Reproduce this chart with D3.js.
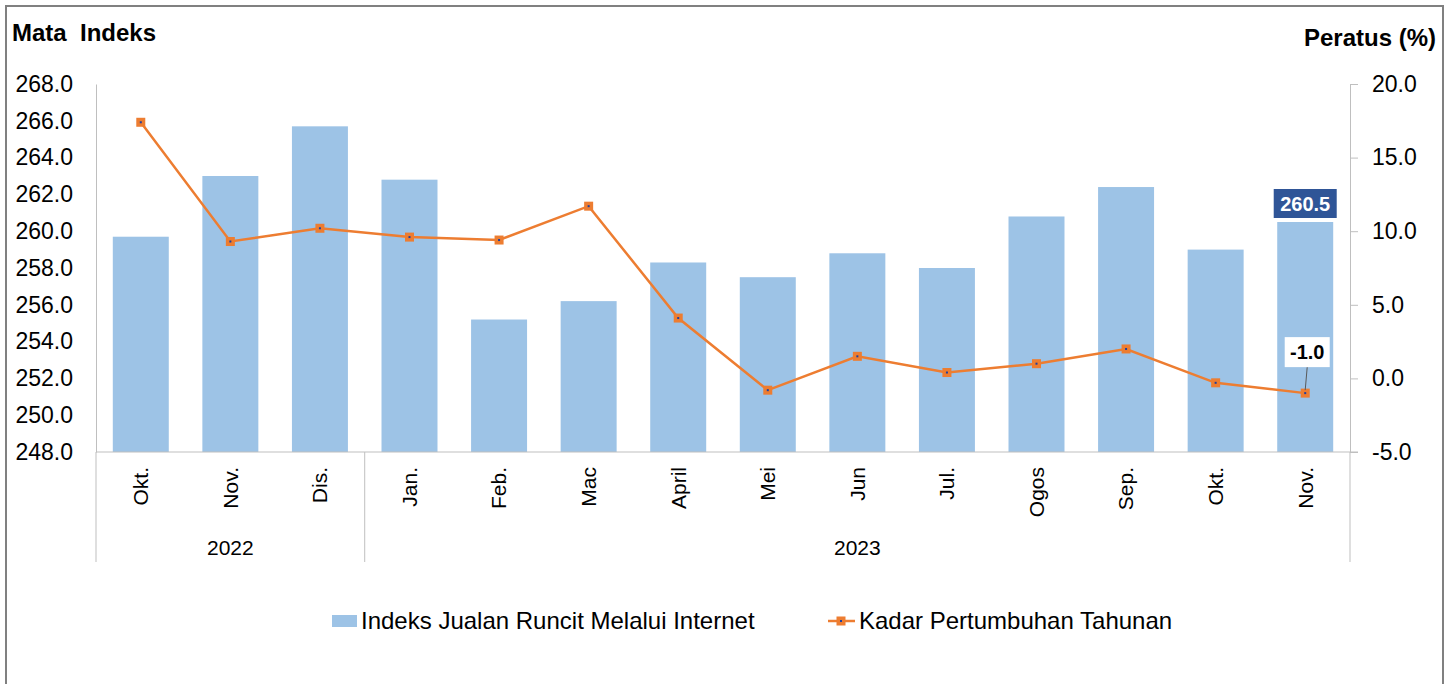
<!DOCTYPE html>
<html>
<head>
<meta charset="utf-8">
<script src="https://cdn.jsdelivr.net/npm/d3@7"></script>
<style>
  body { margin: 0; background: #fff; }
  svg { font-family: "Liberation Sans", Arial, sans-serif; }
  .tick text { fill: #000; }
</style>
</head>
<body>
<div id="chart"></div>
<script>
// Data
const months = ['Okt.', 'Nov.', 'Dis.', 'Jan.', 'Feb.', 'Mac', 'April', 'Mei', 'Jun', 'Jul.', 'Ogos', 'Sep.', 'Okt.', 'Nov.'];
const yearLabels = ['2022', '2023'];
const yearSpans = [3, 11];
const indexValues = [259.7, 263.0, 265.7, 262.8, 255.2, 256.2, 258.3, 257.5, 258.8, 258.0, 260.8, 262.4, 259.0, 260.5];
const growthValues = [17.4, 9.3, 10.2, 9.6, 9.4, 11.7, 4.1, -0.8, 1.5, 0.4, 1.0, 2.0, -0.3, -1.0];
const leftTicks = [248, 250, 252, 254, 256, 258, 260, 262, 264, 266, 268];
const rightTicks = [-5, 0, 5, 10, 15, 20];
const seriesNames = ['Indeks Jualan Runcit Melalui Internet', 'Kadar Pertumbuhan Tahunan'];

const width = 1455;
const height = 684;
const plot = { left: 96, right: 1350, top: 84, bottom: 452 };

const barColor = '#9DC3E6';
const lineColor = '#ED7D31';
const axisColor = '#BFBFBF';

// angka dengan tanda minus biasa (bukan unicode)
const fmt = (d) => d3.format('.1f')(d).replace('\u2212', '-');

const svg = d3.select('#chart').append('svg')
  .attr('width', width)
  .attr('height', height);

// Bingkai
svg.append('rect')
  .attr('x', 6).attr('y', 6)
  .attr('width', 1437).attr('height', 720)
  .attr('fill', '#fff')
  .attr('stroke', '#808080')
  .attr('stroke-width', 2);

const x = d3.scaleBand()
  .domain(months.map((m, i) => i))
  .range([plot.left, plot.right])
  .paddingInner(0.375)
  .paddingOuter(0.1875);

const yLeft = d3.scaleLinear().domain([248, 268]).range([plot.bottom, plot.top]);
const yRight = d3.scaleLinear().domain([-5, 20]).range([plot.bottom, plot.top]);

// Bars
svg.append('g')
  .selectAll('rect')
  .data(indexValues)
  .join('rect')
  .attr('x', (d, i) => x(i))
  .attr('y', (d) => yLeft(d))
  .attr('width', x.bandwidth())
  .attr('height', (d) => yLeft.range()[0] - yLeft(d))
  .attr('fill', barColor);

// Left axis
const leftAxis = svg.append('g')
  .attr('transform', `translate(${plot.left},0)`)
  .call(d3.axisLeft(yLeft).tickValues(leftTicks).tickFormat(fmt).tickSize(0).tickPadding(23));
leftAxis.select('.domain').attr('stroke', axisColor);
leftAxis.selectAll('.tick text').attr('font-size', 23);

// Right axis
const rightAxis = svg.append('g')
  .attr('transform', `translate(${plot.right},0)`)
  .call(d3.axisRight(yRight).tickValues(rightTicks).tickFormat(fmt).tickSize(8).tickSizeOuter(0).tickPadding(14));
rightAxis.select('.domain').attr('stroke', axisColor);
rightAxis.selectAll('.tick line').attr('stroke', axisColor);
rightAxis.selectAll('.tick text').attr('font-size', 23);

// Right axis extends down to the category area
svg.append('line')
  .attr('x1', plot.right).attr('x2', plot.right)
  .attr('y1', plot.bottom).attr('y2', 562)
  .attr('stroke', axisColor);

// Bottom axis (months)
const bottomAxis = svg.append('g')
  .attr('transform', `translate(0,${plot.bottom})`)
  .call(d3.axisBottom(x).tickFormat((i) => months[i]).tickSize(0).tickSizeOuter(0));
bottomAxis.select('.domain').remove();
bottomAxis.selectAll('.tick text')
  .attr('font-size', 21)
  .attr('transform', 'rotate(-90)')
  .attr('text-anchor', 'end')
  .attr('x', -15)
  .attr('y', 0)
  .attr('dy', '0.35em');

svg.append('line')
  .attr('x1', plot.left).attr('x2', plot.right + 8)
  .attr('y1', plot.bottom).attr('y2', plot.bottom)
  .attr('stroke', axisColor);

// Year groups
let startIdx = 0;
const step = x.step();
const groupEdges = [plot.left];
yearLabels.forEach((label, k) => {
  const endIdx = startIdx + yearSpans[k] - 1;
  const x0 = x(startIdx) - (x.paddingInner() * step) / 2;
  const x1 = x(endIdx) + x.bandwidth() + (x.paddingInner() * step) / 2;
  const left = k === 0 ? plot.left : x0;
  const right = k === yearLabels.length - 1 ? plot.right : x1;
  if (k > 0) groupEdges.push(left);
  svg.append('text')
    .attr('x', (left + right) / 2)
    .attr('y', 548)
    .attr('dy', '0.35em')
    .attr('text-anchor', 'middle')
    .attr('font-size', 21)
    .text(label);
  startIdx = endIdx + 1;
});
svg.selectAll('.group-sep')
  .data(groupEdges)
  .join('line')
  .attr('class', 'group-sep')
  .attr('x1', (d) => d).attr('x2', (d) => d)
  .attr('y1', plot.bottom).attr('y2', 562)
  .attr('stroke', axisColor);

// Growth line
const line = d3.line()
  .x((d, i) => x(i) + x.bandwidth() / 2)
  .y((d) => yRight(d));

svg.append('path')
  .datum(growthValues)
  .attr('fill', 'none')
  .attr('stroke', lineColor)
  .attr('stroke-width', 2.5)
  .attr('d', line);

const markers = svg.append('g')
  .selectAll('g')
  .data(growthValues)
  .join('g')
  .attr('transform', (d, i) => `translate(${x(i) + x.bandwidth() / 2},${yRight(d)})`);
markers.append('rect')
  .attr('x', -4.5).attr('y', -4.5)
  .attr('width', 9).attr('height', 9)
  .attr('fill', lineColor);
markers.append('rect')
  .attr('x', -1).attr('y', -1)
  .attr('width', 2).attr('height', 2)
  .attr('fill', '#1F3FA0');

// Labels for last values
const lastIdx = months.length - 1;
const lastX = x(lastIdx) + x.bandwidth() / 2;

const barLabel = svg.append('g')
  .attr('transform', `translate(${lastX},${yLeft(indexValues[lastIdx]) - 18})`);
barLabel.append('rect')
  .attr('x', -31.5).attr('y', -15)
  .attr('width', 63).attr('height', 29)
  .attr('fill', '#2F5597');
barLabel.append('text')
  .attr('text-anchor', 'middle')
  .attr('dy', '0.35em')
  .attr('font-size', 20)
  .attr('font-weight', 'bold')
  .attr('fill', '#fff')
  .text(fmt(indexValues[lastIdx]));

const ly = yRight(growthValues[lastIdx]);
svg.append('line')
  .attr('x1', lastX + 2).attr('y1', ly - 26)
  .attr('x2', lastX).attr('y2', ly - 3)
  .attr('stroke', '#595959')
  .attr('stroke-width', 1);
const lineLabel = svg.append('g')
  .attr('transform', `translate(${lastX + 2},${ly - 41})`);
lineLabel.append('rect')
  .attr('x', -22.5).attr('y', -15)
  .attr('width', 45).attr('height', 30)
  .attr('fill', '#fff');
lineLabel.append('text')
  .attr('text-anchor', 'middle')
  .attr('dy', '0.35em')
  .attr('font-size', 20)
  .attr('font-weight', 'bold')
  .text(fmt(growthValues[lastIdx]));

// Axis titles
svg.append('text')
  .attr('x', 12).attr('y', 41)
  .attr('font-size', 24)
  .attr('font-weight', 'bold')
  .attr('xml:space', 'preserve')
  .style('white-space', 'pre')
  .text('Mata  Indeks');
svg.append('text')
  .attr('x', 1436).attr('y', 46)
  .attr('text-anchor', 'end')
  .attr('font-size', 24)
  .attr('font-weight', 'bold')
  .text('Peratus (%)');

// Legend
const legend = svg.append('g').attr('transform', 'translate(0,621)');
legend.append('rect')
  .attr('x', 332).attr('y', -6)
  .attr('width', 25).attr('height', 12)
  .attr('fill', barColor);
legend.append('text')
  .attr('x', 361).attr('dy', '0.35em')
  .attr('font-size', 24)
  .text(seriesNames[0]);
legend.append('line')
  .attr('x1', 828).attr('x2', 855)
  .attr('stroke', lineColor)
  .attr('stroke-width', 2.5);
legend.append('rect')
  .attr('x', 836.5).attr('y', -4.5)
  .attr('width', 9).attr('height', 9)
  .attr('fill', lineColor);
legend.append('rect')
  .attr('x', 840).attr('y', -1)
  .attr('width', 2).attr('height', 2)
  .attr('fill', '#1F3FA0');
legend.append('text')
  .attr('x', 859).attr('dy', '0.35em')
  .attr('font-size', 24)
  .text(seriesNames[1]);
</script>
</body>
</html>
